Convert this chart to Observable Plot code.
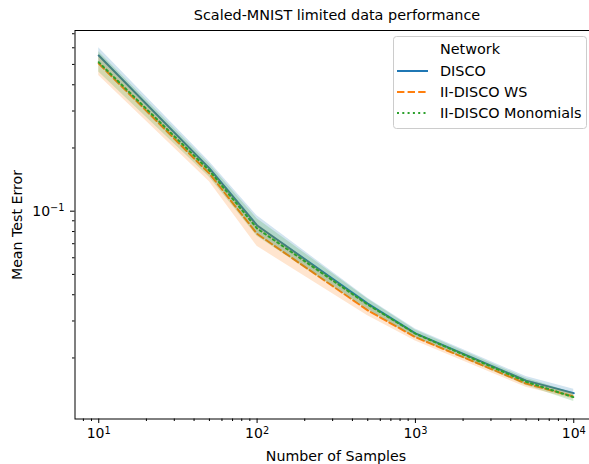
<!DOCTYPE html>
<html><head><meta charset="utf-8">
<script src="https://cdn.jsdelivr.net/npm/d3@7"></script>
<script src="https://cdn.jsdelivr.net/npm/@observablehq/plot@0.6"></script>
<style>
html,body{margin:0;padding:0;background:#fff;overflow:hidden;}
#wrap{position:relative;width:589px;height:464px;overflow:hidden;font-family:"DejaVu Sans",sans-serif;color:#000;}
#wrap svg{position:absolute;left:0;top:0;max-width:none !important;}
.lab{position:absolute;white-space:nowrap;font-size:14.2px;line-height:1;}
</style>
</head><body>
<div id="wrap"></div>
<script>
const samples = [10, 50, 100, 500, 1000, 5000, 10000];
const series = ["DISCO", "II-DISCO WS", "II-DISCO Monomials"];
const colors = ["#1f77b4", "#ff7f0e", "#2ca02c"];
const disco   = [0.551, 0.160, 0.0855, 0.0363, 0.0262, 0.0156, 0.0136];
const discoHi = [0.600, 0.172, 0.0950, 0.0385, 0.0275, 0.0163, 0.0142];
const discoLo = [0.505, 0.150, 0.0780, 0.0342, 0.0250, 0.0150, 0.0130];
const ws      = [0.505, 0.151, 0.0780, 0.0337, 0.0251, 0.0151, 0.0131];
const wsHi    = [0.560, 0.162, 0.0870, 0.0360, 0.0262, 0.0157, 0.0136];
const wsLo    = [0.443, 0.138, 0.0680, 0.0318, 0.0241, 0.0145, 0.0127];
const mono    = [0.512, 0.156, 0.0827, 0.0359, 0.0261, 0.0154, 0.0130];
const monoHi  = [0.575, 0.168, 0.0920, 0.0382, 0.0272, 0.0160, 0.0136];
const monoLo  = [0.460, 0.145, 0.0760, 0.0338, 0.0250, 0.0148, 0.0124];
const xMajor = [10, 100, 1000, 10000];
const xMinor = [8, 9, 20, 30, 40, 50, 60, 70, 80, 90, 200, 300, 400, 500, 600, 700, 800, 900,
                2000, 3000, 4000, 5000, 6000, 7000, 8000, 9000];
const yMajor = [0.1];
const yMinor = [0.02, 0.03, 0.04, 0.05, 0.06, 0.07, 0.08, 0.09, 0.2, 0.3, 0.4, 0.5, 0.6, 0.7];

const means = [disco, ws, mono], his = [discoHi, wsHi, monoHi], los = [discoLo, wsLo, monoLo];
const rows = series.map((s, i) => samples.map((x, j) => ({series: s, x, y: means[i][j], lo: los[i][j], hi: his[i][j]})));
const dashes = [null, "7.4,3.2", "2,3.3"];
const fmt = v => "10^" + Math.round(Math.log10(v));

const marks = [];
rows.forEach((r, i) => {
  marks.push(Plot.areaY(r, {x: "x", y1: "lo", y2: "hi", fill: colors[i], fillOpacity: 0.2}));
  marks.push(Plot.lineY(r, {x: "x", y: "y", stroke: colors[i], strokeWidth: 2, strokeDasharray: dashes[i]}));
});
marks.push(
  Plot.frame({stroke: "#000", strokeWidth: 1}),
  Plot.axisX({ticks: xMinor, tickSize: 2.5, tickFormat: () => "", label: null}),
  Plot.axisX({ticks: xMajor, tickSize: 4.5, tickPadding: 5, tickFormat: fmt, fontSize: 14, label: null}),
  Plot.axisY({ticks: yMinor, tickSize: 2.5, tickFormat: () => "", label: null}),
  Plot.axisY({ticks: yMajor, tickSize: 4.5, tickPadding: 6, tickFormat: fmt, fontSize: 14, label: null})
);

const chart = Plot.plot({
  width: 598, height: 464,
  marginLeft: 74.5, marginRight: 1, marginTop: 30, marginBottom: 45.5,
  style: {fontFamily: "DejaVu Sans", background: "white", color: "#000", overflow: "visible", maxWidth: "none"},
  x: {type: "log", domain: [7.08, 14125]},
  y: {type: "log", domain: [0.01024, 0.7253]},
  marks
});
// mathtext-like superscripts
chart.querySelectorAll("text").forEach(t => {
  const m = /^10\^(-?\d+)$/.exec(t.textContent);
  if (!m) return;
  t.textContent = "";
  const ns = "http://www.w3.org/2000/svg";
  const a = document.createElementNS(ns, "tspan"); a.textContent = "10";
  const b = document.createElementNS(ns, "tspan"); b.textContent = m[1].replace("-", "\u2212");
  b.setAttribute("dy", "-0.45em"); b.setAttribute("font-size", "70%");
  t.appendChild(a); t.appendChild(b);
});
const wrap = document.getElementById("wrap");
wrap.appendChild(chart);

function addLabel(text, css) {
  const d = document.createElement("div");
  d.className = "lab"; d.textContent = text;
  Object.assign(d.style, css);
  wrap.appendChild(d);
  return d;
}
addLabel("Scaled-MNIST limited data performance", {left: "337px", top: "8px", transform: "translateX(-50%)", fontSize: "14.4px"});
addLabel("Number of Samples", {left: "336px", top: "449px", transform: "translateX(-50%)"});
addLabel("Mean Test Error", {left: "17px", top: "225px", transform: "translate(-50%,-50%) rotate(-90deg)"});

// legend
const ns = "http://www.w3.org/2000/svg";
const lg = document.createElementNS(ns, "svg");
lg.setAttribute("width", 589); lg.setAttribute("height", 464);
lg.style.pointerEvents = "none";
let html = `<rect x="393.5" y="36.5" width="193" height="92" rx="3" fill="white" fill-opacity="0.8" stroke="#cccccc"/>`;
html += `<text x="440" y="54" font-size="14.4" font-family="DejaVu Sans">Network</text>`;
series.forEach((s, i) => {
  const y = 71 + i * 21;
  html += `<line x1="397" x2="428" y1="${y}" y2="${y}" stroke="${colors[i]}" stroke-width="2" ${dashes[i] ? `stroke-dasharray="${dashes[i]}"` : ""}/>`;
  html += `<text x="440" y="${y + 5}" font-size="14.4" font-family="DejaVu Sans">${s}</text>`;
});
lg.innerHTML = html;
wrap.appendChild(lg);
</script>
</body></html>
